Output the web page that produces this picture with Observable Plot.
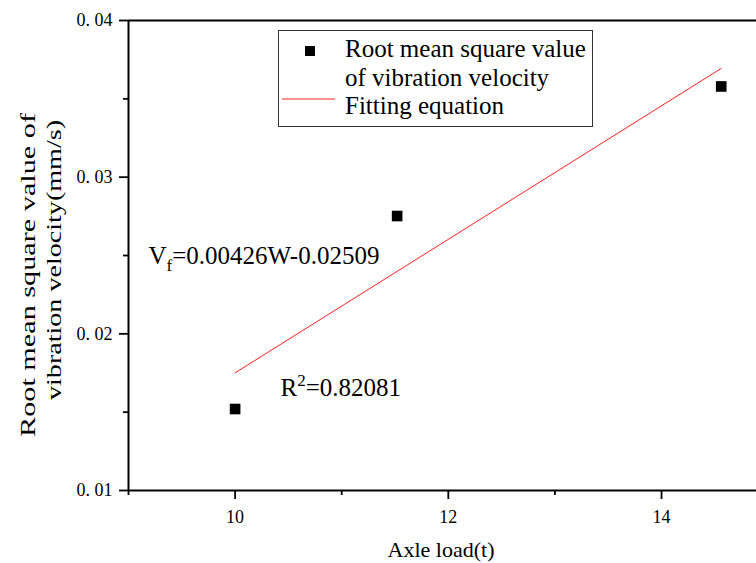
<!DOCTYPE html>
<html>
<head>
<meta charset="utf-8">
<script src="https://cdn.jsdelivr.net/npm/d3@7"></script>
<script src="https://cdn.jsdelivr.net/npm/@observablehq/plot@0.6"></script>
<style>
  html, body { margin: 0; padding: 0; background: #fff; }
  #chart { position: relative; width: 756px; height: 563px; overflow: hidden; }
</style>
</head>
<body>
<div id="chart"></div>
<script>
// ---- data ----
const axleLoad = [10, 11.52, 14.56];             // t
const rmsVelocity = [0.0152, 0.02752, 0.03579];  // mm/s
const fitLoad = [10, 14.56];
const fitVelocity = [0.01751, 0.03694];
const yTicks = [0.01, 0.02, 0.03, 0.04];
const yTickLabels = ["0. 01", "0. 02", "0. 03", "0. 04"];
const yMinorTicks = [0.015, 0.025, 0.035];
const xTicks = [10, 12, 14];
const xTickLabels = ["10", "12", "14"];
const xMinorTicks = [9, 11, 13];
const equationText = "Vf=0.00426W-0.02509";
const r2Text = "R2=0.82081";
const legendLabels = ["Root mean square value", "of vibration velocity", "Fitting equation"];
const xTitle = "Axle load(t)";
const yTitleLines = ["Root mean square value of", "vibration velocity(mm/s)"];

const points = axleLoad.map((x, i) => ({x, y: rmsVelocity[i]}));
const fit = fitLoad.map((x, i) => ({x, y: fitVelocity[i]}));

const FONT = "'Liberation Serif', 'Times New Roman', serif";

const chart = Plot.plot({
  width: 756,
  height: 563,
  marginLeft: 128,
  marginRight: 0,
  marginTop: 20,
  marginBottom: 73,
  x: {domain: [9, 14.891]},
  y: {domain: [0.01, 0.04]},
  style: {fontFamily: FONT, fontSize: "18px", color: "black", background: "white", overflow: "visible"},
  marks: [
    Plot.axisY(yTicks, {tickSize: 9, tickPadding: 7, strokeWidth: 1.8, fontSize: 18,
      tickFormat: d => yTickLabels[yTicks.indexOf(d)], label: null}),
    Plot.axisY(yMinorTicks, {tickSize: 5, strokeWidth: 1.8, tickFormat: () => "", label: null}),
    Plot.axisX(xTicks, {tickSize: 9, tickPadding: 11, strokeWidth: 1.8, fontSize: 18,
      tickFormat: d => xTickLabels[xTicks.indexOf(d)], label: null}),
    Plot.axisX(xMinorTicks, {tickSize: 5, strokeWidth: 1.8, tickFormat: () => "", label: null}),
    Plot.ruleX([9], {stroke: "black", strokeWidth: 2}),
    Plot.ruleY([0.01], {stroke: "black", strokeWidth: 2}),
    Plot.ruleY([0.04], {stroke: "black", strokeWidth: 2}),
    Plot.line(fit, {x: "x", y: "y", stroke: "#ff2020", strokeWidth: 1}),
    Plot.dot(points, {x: "x", y: "y", symbol: "square", r: 6, fill: "black", stroke: "none"}),
    Plot.text([equationText], {x: 9.188, y: 0.0250, text: d => d, textAnchor: "start",
      lineAnchor: "middle", fontSize: 25, fill: "black"}),
    Plot.text([r2Text], {x: 10.426, y: 0.01657, text: d => d, textAnchor: "start",
      lineAnchor: "middle", fontSize: 25, fill: "black"})
  ]
});

document.getElementById("chart").appendChild(chart);
const svg = d3.select(chart);

// tick label size
svg.selectAll('g[aria-label="y-axis tick label"], g[aria-label="x-axis tick label"]')
  .attr("font-size", 18).style("font-size", "18px")
  .selectAll("text").attr("font-size", 18).style("font-size", "18px");

// subscript / superscript in the annotations
svg.selectAll("text").each(function() {
  const t = d3.select(this);
  const s = this.textContent;
  if (s === equationText) {
    t.text(null);
    t.append("tspan").text("V");
    t.append("tspan").attr("font-size", 17).attr("dy", "7").text("f");
    t.append("tspan").attr("dy", "-7").text(s.slice(2));
  } else if (s === r2Text) {
    t.text(null);
    t.append("tspan").text("R");
    t.append("tspan").attr("font-size", 17).attr("dy", "-10").text("2");
    t.append("tspan").attr("dy", "10").text(s.slice(2));
  }
});

// axis titles
svg.append("text")
  .attr("x", 441).attr("y", 557)
  .attr("text-anchor", "middle")
  .attr("font-family", FONT).style("font-size", "22px").attr("fill", "black")
  .text(xTitle);

const yTitleCenters = [[35, 275, 324], [61, 260, 280]];
yTitleLines.forEach((line, i) => {
  const [bx, cy, len] = yTitleCenters[i];
  svg.append("text")
    .attr("transform", `translate(${bx},${cy}) rotate(-90)`)
    .attr("text-anchor", "middle")
    .attr("font-family", FONT).style("font-size", "21px").attr("fill", "black")
    .attr("textLength", len).attr("lengthAdjust", "spacingAndGlyphs")
    .text(line);
});

// legend
const lg = svg.append("g").attr("font-family", FONT).attr("text-anchor", "start")
  .style("font-size", "25px");
lg.append("rect").attr("x", 278.5).attr("y", 30.5).attr("width", 314).attr("height", 96)
  .attr("fill", "white").attr("stroke", "#333").attr("stroke-width", 1);
lg.append("rect").attr("x", 305).attr("y", 46).attr("width", 10).attr("height", 10).attr("fill", "black");
lg.append("line").attr("x1", 282).attr("x2", 335).attr("y1", 99).attr("y2", 99)
  .attr("stroke", "#ff2020").attr("stroke-width", 1);
const baselines = [57, 86, 114];
legendLabels.forEach((s, i) => {
  lg.append("text").attr("x", 345).attr("y", baselines[i]).attr("fill", "black")
    .attr("text-anchor", "start").text(s);
});
</script>
</body>
</html>
